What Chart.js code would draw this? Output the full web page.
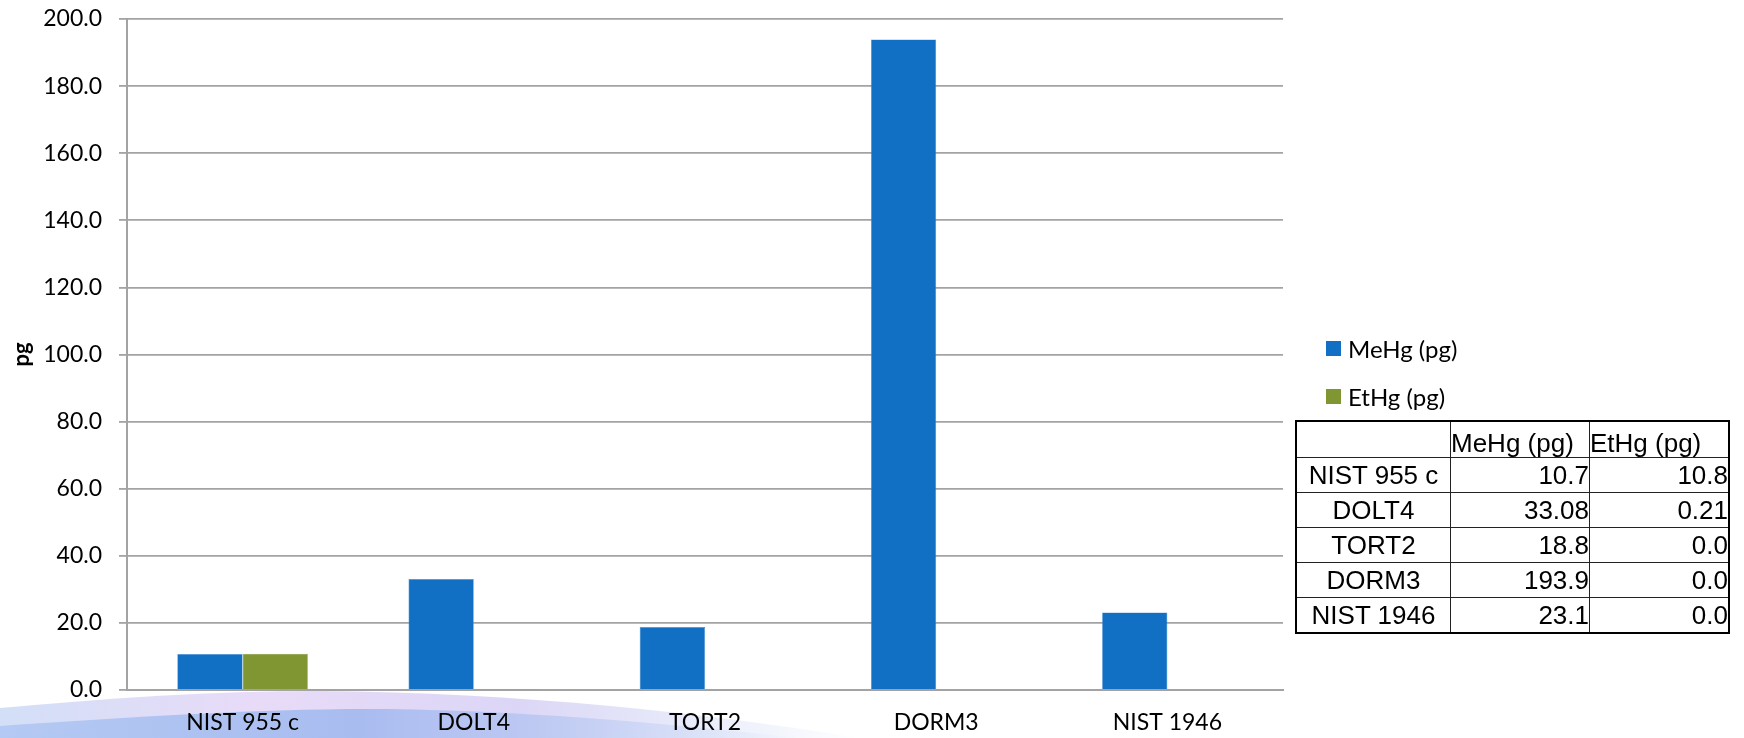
<!DOCTYPE html>
<html>
<head>
<meta charset="utf-8">
<script src="https://cdn.jsdelivr.net/npm/chart.js@4/dist/chart.umd.min.js"></script>
<style>
  html, body { margin: 0; padding: 0; background: #fff; }
  #wrap { position: relative; width: 1744px; height: 738px; overflow: hidden; }
  #chart { display: block; }
  #legend { position: absolute; left: 1326px; top: 333px; font-family: Lato, sans-serif; font-size: 24px; color: #000; }
  #legend .row { display: flex; align-items: center; height: 30px; margin-bottom: 18px; }
  #legend .box { width: 15px; height: 15px; margin-right: 7px; }
  #tbl { position: absolute; left: 1295px; top: 420px; border-collapse: collapse; font-family: "Liberation Sans", Arial, sans-serif; font-size: 26px; color: #000; border: 2.5px solid #000; }
  #tbl td { border: 1.5px solid #222; padding: 0; height: 34px; line-height: 30px; }
  #tbl tr.head td { height: 35px; vertical-align: bottom; line-height: 28px; text-align: left; }
  #tbl td.name { width: 153px; text-align: center; }
  #tbl td.num { width: 138px; text-align: right; }
</style>
</head>
<body>
<div id="wrap">
  <canvas id="chart" width="1744" height="738"></canvas>
  <div id="legend"></div>
  <table id="tbl"></table>
</div>
<script>
const categories = ['NIST 955 c', 'DOLT4', 'TORT2', 'DORM3', 'NIST 1946'];
const seriesNames = ['MeHg (pg)', 'EtHg (pg)'];
const meHg = [10.7, 33.08, 18.8, 193.9, 23.1];
const etHg = [10.8, 0.21, 0.0, 0.0, 0.0];
const yTicks = [0, 20, 40, 60, 80, 100, 120, 140, 160, 180, 200];

const BLUE = '#1170c4';
const GREEN = '#7f9633';
const GRID = '#a3a3a3';
const FONT = 'Lato, sans-serif';

// Table shows one decimal unless the value carries more.
const fmt = (v) => Math.abs(v * 10 - Math.round(v * 10)) < 1e-9 ? v.toFixed(1) : String(v);

// Soft slide swoosh behind the category labels.
const swoosh = {
    id: 'swoosh',
    beforeDraw(chart) {
        const ctx = chart.ctx;
        ctx.save();
        ctx.fillStyle = '#fff';
        ctx.fillRect(0, 0, chart.width, chart.height);
        let g = ctx.createLinearGradient(0, 0, 860, 0);
        g.addColorStop(0, '#d3dff7');
        g.addColorStop(0.3, '#e8dbf8');
        g.addColorStop(0.6, '#dcd6f6');
        g.addColorStop(1, 'rgba(200,215,245,0)');
        ctx.fillStyle = g;
        ctx.beginPath();
        ctx.moveTo(0, 738);
        ctx.lineTo(0, 708);
        ctx.bezierCurveTo(110, 698, 210, 691, 320, 691);
        ctx.bezierCurveTo(520, 693, 700, 712, 860, 738);
        ctx.closePath();
        ctx.fill();
        g = ctx.createLinearGradient(0, 0, 800, 0);
        g.addColorStop(0, '#b4c9f3');
        g.addColorStop(0.45, '#a9bcf0');
        g.addColorStop(1, 'rgba(170,195,240,0)');
        ctx.fillStyle = g;
        ctx.beginPath();
        ctx.moveTo(0, 738);
        ctx.lineTo(0, 726);
        ctx.bezierCurveTo(150, 716, 300, 706, 430, 710);
        ctx.bezierCurveTo(570, 714, 690, 726, 800, 738);
        ctx.closePath();
        ctx.fill();
        ctx.restore();
    },
};

new Chart(document.getElementById('chart'), {
    type: 'bar',
    data: {
        labels: categories,
        datasets: [
            { label: seriesNames[0], data: meHg, backgroundColor: BLUE, borderColor: '#4a8fd6', borderWidth: 0.6 },
            { label: seriesNames[1], data: etHg, backgroundColor: GREEN, borderColor: '#9bb04e', borderWidth: 0.6 },
        ],
    },
    options: {
        responsive: false,
        animation: false,
        layout: { padding: { top: 19, right: 461, bottom: 0, left: 0 } },
        datasets: { bar: { barPercentage: 1, categoryPercentage: 0.565 } },
        plugins: {
            legend: { display: false },
            tooltip: { enabled: false },
        },
        scales: {
            x: {
                afterFit: (s) => { s.height = 48; },
                grid: { display: false, drawTicks: false },
                border: { color: GRID, width: 2 },
                ticks: { color: '#000', font: { family: FONT, size: 23 }, padding: 19, maxRotation: 0 },
            },
            y: {
                min: 0,
                max: 200,
                afterBuildTicks: (s) => { s.ticks = yTicks.map((v) => ({ value: v })); },
                afterFit: (s) => { s.width = 127; s.paddingTop = 0; s.paddingBottom = 0; },
                grid: { color: GRID, lineWidth: 1.8, tickLength: 8 },
                border: { color: GRID, width: 2 },
                ticks: { color: '#000', font: { family: FONT, size: 23 }, padding: 17, callback: (v) => Number(v).toFixed(1) },
                title: { display: true, text: 'pg', color: '#000', font: { family: FONT, size: 22, weight: 'bold' }, padding: { top: 9, bottom: 0 } },
            },
        },
    },
    plugins: [swoosh],
});

// Legend built from the series names and colours.
const legend = document.getElementById('legend');
[BLUE, GREEN].forEach((c, i) => {
    legend.insertAdjacentHTML('beforeend',
        `<div class="row"><div class="box" style="background:${c}"></div><span>${seriesNames[i]}</span></div>`);
});

// Data table from the same arrays.
const tbl = document.getElementById('tbl');
let html = `<tr class="head"><td class="name"></td><td class="num" style="text-align:left">${seriesNames[0]}</td><td class="num" style="text-align:left">${seriesNames[1]}</td></tr>`;
categories.forEach((c, i) => {
    html += `<tr><td class="name">${c}</td><td class="num">${fmt(meHg[i])}</td><td class="num">${fmt(etHg[i])}</td></tr>`;
});
tbl.innerHTML = html;
</script>
</body>
</html>
